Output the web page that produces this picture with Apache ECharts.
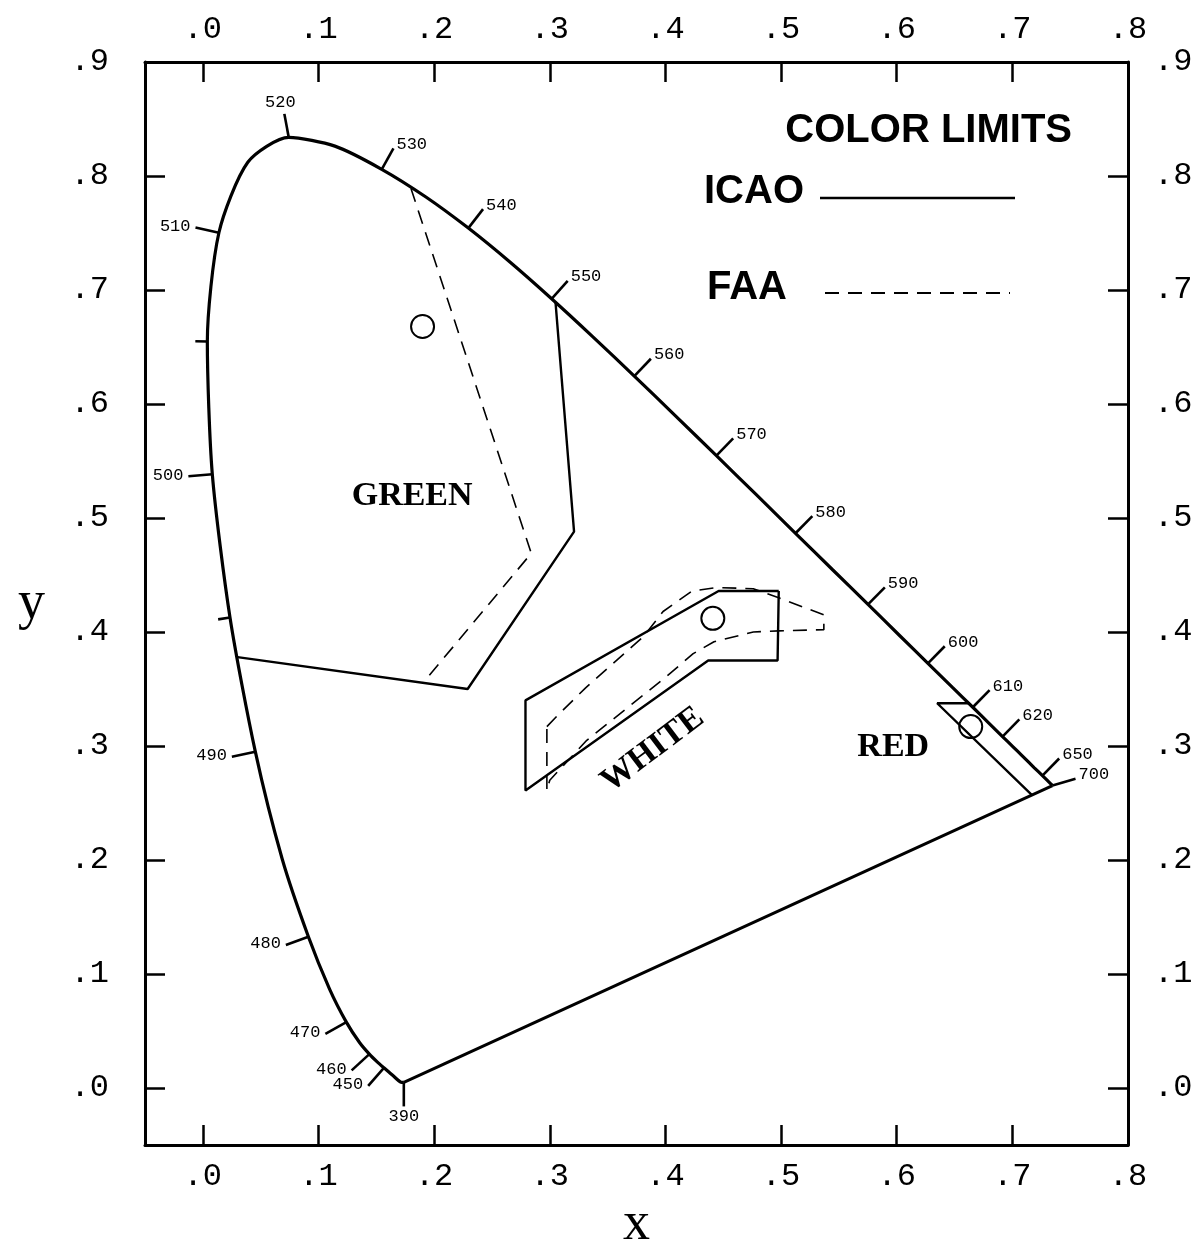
<!DOCTYPE html>
<html><head><meta charset="utf-8">
<script src="https://cdn.jsdelivr.net/npm/echarts@6/dist/echarts.min.js"></script>
<style>html,body{margin:0;padding:0;background:#fff}#c{width:1199px;height:1248px}</style>
</head><body><div id="c"></div>
<script>
// Spectral locus (CIE 1931 x,y)
const wavelengths = [390,420,440,445,450,455,460,465,470,475,480,485,490,495,500,505,510,515,520,525,530,535,540,545,550,555,560,565,570,575,580,585,590,595,600,605,610,615,620,625,630,640,650,660,680,700];
const locusX = [0.1738,0.1714,0.1644,0.1611,0.1566,0.1510,0.1440,0.1355,0.1241,0.1096,0.0913,0.0687,0.0454,0.0235,0.0082,0.0039,0.0139,0.0389,0.0743,0.1142,0.1547,0.1929,0.2296,0.2658,0.3016,0.3373,0.3731,0.4087,0.4441,0.4788,0.5125,0.5448,0.5752,0.6029,0.6270,0.6482,0.6658,0.6801,0.6915,0.7006,0.7079,0.7190,0.7260,0.7300,0.7334,0.7347];
const locusY = [0.0049,0.0051,0.0109,0.0138,0.0177,0.0227,0.0297,0.0399,0.0578,0.0868,0.1327,0.2007,0.2950,0.4127,0.5384,0.6548,0.7502,0.8120,0.8338,0.8262,0.8059,0.7816,0.7543,0.7243,0.6923,0.6589,0.6245,0.5896,0.5547,0.5202,0.4866,0.4544,0.4242,0.3965,0.3725,0.3514,0.3340,0.3197,0.3083,0.2993,0.2920,0.2809,0.2740,0.2700,0.2666,0.2653];
const labeledWavelengths = [390,450,460,470,480,490,500,510,520,530,540,550,560,570,580,590,600,610,620,650,700];
const minorWavelengths = [495,505];

// ICAO limits (solid)
const icaoGreenX = [0.305, 0.321, 0.229, 0.030];
const icaoGreenY = [0.689, 0.488, 0.350, 0.378];
const icaoWhiteX = [0.498, 0.446, 0.279, 0.279, 0.437, 0.497, 0.498];
const icaoWhiteY = [0.436, 0.436, 0.340, 0.261, 0.375, 0.375, 0.436];
const icaoRedX = [0.663, 0.635, 0.717];
const icaoRedY = [0.3375, 0.3375, 0.257];

// FAA limits (dashed)
const faaGreenX = [0.180, 0.284, 0.1905];
const faaGreenY = [0.789, 0.469, 0.3555];
const faaWhiteX = [0.2975, 0.306, 0.331, 0.381, 0.398, 0.423, 0.4445, 0.476, 0.498, 0.537, 0.537, 0.498, 0.476, 0.442, 0.424, 0.401, 0.332, 0.300, 0.2975, 0.2975];
const faaWhiteY = [0.317, 0.326, 0.351, 0.396, 0.418, 0.436, 0.439, 0.438, 0.430, 0.415, 0.402, 0.401, 0.400, 0.3915, 0.381, 0.361, 0.305, 0.270, 0.261, 0.317];

// Target circles
const circleX = [0.190, 0.441, 0.664];
const circleY = [0.668, 0.412, 0.317];

// Region names
const regionNames = ['GREEN', 'WHITE', 'RED'];
const regionX = [0.181, 0.389, 0.597];
const regionY = [0.519, 0.2965, 0.299];
const regionRotate = [0, 37, 0];

// Axis ticks / labels
const xTickValues = [0, 0.1, 0.2, 0.3, 0.4, 0.5, 0.6, 0.7];
const xLabelValues = [0, 0.1, 0.2, 0.3, 0.4, 0.5, 0.6, 0.7, 0.8];
const yTickValues = [0, 0.1, 0.2, 0.3, 0.4, 0.5, 0.6, 0.7, 0.8];
const yLabelValues = [0, 0.1, 0.2, 0.3, 0.4, 0.5, 0.6, 0.7, 0.8, 0.9];

const legendTitle = 'COLOR LIMITS';
const legendNames = ['ICAO', 'FAA'];

// ---------- build ----------
const zip = (xs, ys) => xs.map((x, i) => [x, ys[i]]);
const fmt = v => '.' + Math.round(v * 10);
const tickDirOverride = { 390: [0, 1], 700: [0.96, -0.28] };

function tickItem(w, major) {
  const i = wavelengths.indexOf(w);
  const a = Math.max(i - 1, 0), b = Math.min(i + 1, wavelengths.length - 1);
  return [locusX[i], locusY[i], locusX[a], locusY[a], locusX[b], locusY[b], w, major ? 1 : 0];
}
const tickData = labeledWavelengths.map(w => tickItem(w, true)).concat(minorWavelengths.map(w => tickItem(w, false)));

const axisFont = { fontFamily: 'Liberation Mono', fontSize: 32, color: '#000' };
const lineBlack = { color: '#000', width: 3 };

function xAx(pos) {
  return {
    type: 'value', position: pos, min: -0.05, max: 0.8, gridIndex: 0,
    axisLine: { show: true, onZero: false, lineStyle: lineBlack },
    axisTick: { show: true, inside: true, length: 20, customValues: xTickValues, lineStyle: { color: '#000', width: 2.5 } },
    axisLabel: Object.assign({ show: true, margin: 16, customValues: xLabelValues, formatter: fmt }, axisFont),
    splitLine: { show: false }
  };
}
function yAx(pos) {
  return {
    type: 'value', position: pos, min: -0.05, max: 0.9, gridIndex: 0,
    axisLine: { show: true, onZero: false, lineStyle: lineBlack },
    axisTick: { show: true, inside: true, length: 20, customValues: yTickValues, lineStyle: { color: '#000', width: 2.5 } },
    axisLabel: Object.assign({ show: true, margin: pos === 'left' ? 36 : 26, customValues: yLabelValues, formatter: fmt }, axisFont),
    splitLine: { show: false }
  };
}
const xBottom = Object.assign(xAx('bottom'), { name: 'x', nameLocation: 'middle', nameGap: 52,
  nameTextStyle: { fontFamily: 'Liberation Serif', fontSize: 54, color: '#000' } });
const yLeft = Object.assign(yAx('left'), { name: 'y', nameLocation: 'middle', nameGap: 100, nameRotate: 0,
  nameTextStyle: { fontFamily: 'Liberation Serif', fontSize: 54, color: '#000' } });

const polyLine = (name, xs, ys, dashed, width) => ({
  type: 'line', name, data: zip(xs, ys), symbol: 'none', silent: true, animation: false,
  lineStyle: { color: '#000', width: width || 2, type: dashed ? [14, 9] : 'solid' }
});

const option = {
  animation: false,
  backgroundColor: '#fff',
  grid: { left: 145, right: 71, top: 62, bottom: 103, containLabel: false, outerBoundsMode: 'none' },
  xAxis: [xBottom, xAx('top')],
  yAxis: [yLeft, yAx('right')],
  series: [
    Object.assign(polyLine('locus', locusX, locusY, false, 3.2), { smooth: 0.25 }),
    polyLine('purple', [locusX[0], locusX[locusX.length - 1]], [locusY[0], locusY[locusY.length - 1]], false, 3),
    polyLine('ICAO', icaoGreenX, icaoGreenY, false, 2.4),
    polyLine('ICAO', icaoWhiteX, icaoWhiteY, false, 2.4),
    polyLine('ICAO', icaoRedX, icaoRedY, false, 2.4),
    polyLine('FAA', faaGreenX, faaGreenY, true, 1.6),
    polyLine('FAA', faaWhiteX, faaWhiteY, true, 1.6),
    {
      type: 'scatter', data: zip(circleX, circleY), symbol: 'circle', symbolSize: 23, silent: true,
      itemStyle: { color: 'rgba(0,0,0,0)', borderColor: '#000', borderWidth: 2, opacity: 1 }
    },
    {
      type: 'scatter', symbolSize: 0, silent: true, itemStyle: { color: '#000', opacity: 1 },
      data: regionNames.map((n, i) => ({ name: n, value: [regionX[i], regionY[i]],
        label: { rotate: regionRotate[i] } })),
      label: { show: true, position: 'inside', formatter: p => p.name, fontFamily: 'Liberation Serif',
        fontWeight: 'bold', fontSize: 34, color: '#000', opacity: 1, textBorderWidth: 0 }
    },
    {
      type: 'custom', data: tickData, encode: { x: [0, 2, 4], y: [1, 3, 5] }, silent: true, clip: false,
      renderItem: (params, api) => {
        const p = api.coord([api.value(0), api.value(1)]);
        const a = api.coord([api.value(2), api.value(3)]);
        const b = api.coord([api.value(4), api.value(5)]);
        const w = api.value(6), major = api.value(7) === 1;
        let dx = b[0] - a[0], dy = b[1] - a[1];
        const L = Math.hypot(dx, dy) || 1; dx /= L; dy /= L;
        let nx = dy, ny = -dx;
        if (tickDirOverride[w]) { nx = tickDirOverride[w][0]; ny = tickDirOverride[w][1]; }
        const len = major ? 24 : 12;
        const e = [p[0] + nx * len, p[1] + ny * len];
        const children = [{ type: 'line', shape: { x1: p[0], y1: p[1], x2: e[0], y2: e[1] },
          style: { stroke: '#000', lineWidth: 2.6 } }];
        if (major) {
          let tx, ty, align, va;
          if (Math.abs(nx) < 0.35) {
            align = 'center'; tx = e[0] - 4;
            if (ny < 0) { va = 'bottom'; ty = e[1] - 3; } else { va = 'top'; ty = e[1] + 2; tx = e[0]; }
          } else if (nx > 0) { align = 'left'; va = 'middle'; tx = e[0] + 3; ty = e[1] - 4; }
          else { align = 'right'; va = 'middle'; tx = e[0] - 5; ty = e[1] - 1; }
          children.push({ type: 'text', x: tx, y: ty,
            style: { text: String(w), fill: '#000', fontFamily: 'Liberation Mono', fontSize: 17, align, verticalAlign: va } });
        }
        return { type: 'group', children };
      }
    }
  ],
  graphic: [
    { type: 'text', x: 1072, y: 131, style: { text: legendTitle, fill: '#000', fontFamily: 'Liberation Sans', fontWeight: 'bold', fontSize: 40, align: 'right', verticalAlign: 'middle' } },
    { type: 'text', x: 704, y: 192, style: { text: legendNames[0], fill: '#000', fontFamily: 'Liberation Sans', fontWeight: 'bold', fontSize: 40, align: 'left', verticalAlign: 'middle' } },
    { type: 'line', shape: { x1: 820, y1: 198, x2: 1015, y2: 198 }, style: { stroke: '#000', lineWidth: 2.5 } },
    { type: 'text', x: 707, y: 288, style: { text: legendNames[1], fill: '#000', fontFamily: 'Liberation Sans', fontWeight: 'bold', fontSize: 40, align: 'left', verticalAlign: 'middle' } },
    { type: 'line', shape: { x1: 825, y1: 293, x2: 1010, y2: 293 }, style: { stroke: '#000', lineWidth: 2, lineDash: [14, 9] } }
  ]
};

const chart = echarts.init(document.getElementById('c'), null, { renderer: 'canvas' });
chart.setOption(option);
</script>
</body></html>
